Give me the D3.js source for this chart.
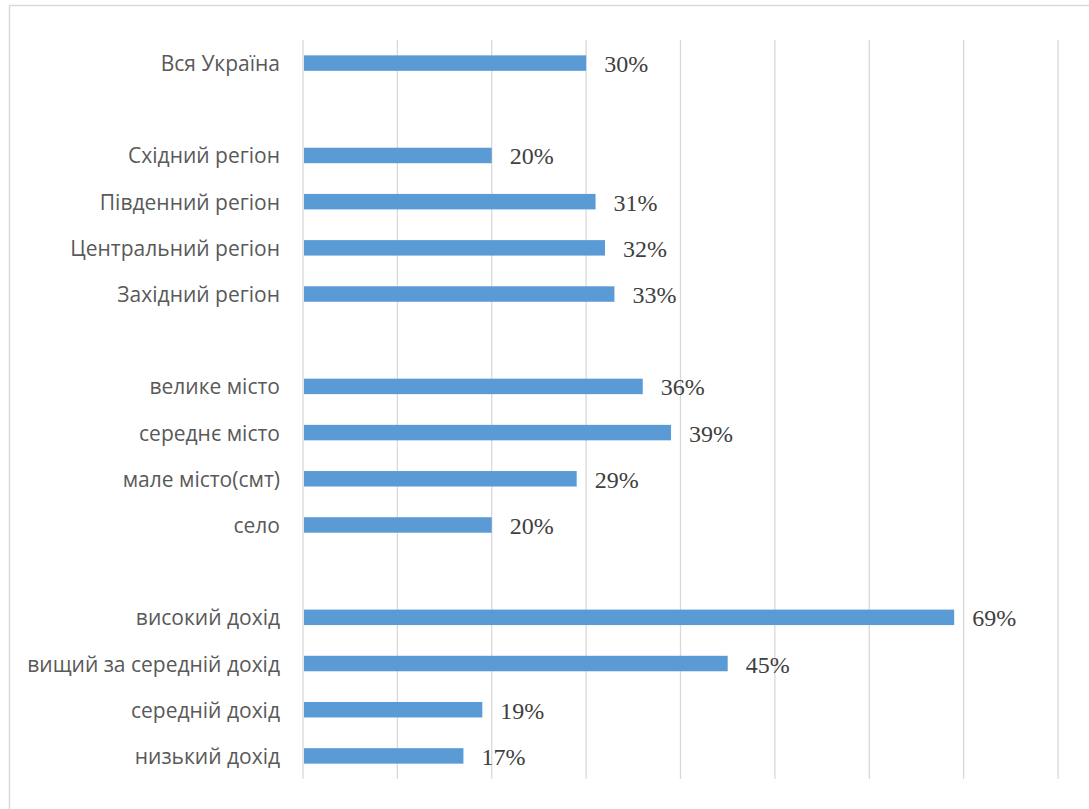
<!DOCTYPE html>
<html>
<head>
<meta charset="utf-8">
<script src="https://cdn.jsdelivr.net/npm/d3@7"></script>
<style>
  html, body { margin: 0; padding: 0; background: #fff; }
  svg { display: block; }
</style>
</head>
<body>
<svg id="chart" width="1089" height="809"></svg>
<script>
// Rows from top to bottom; empty strings are spacer rows between groups
const categories = [
  "Вся Україна", "",
  "Східний регіон", "Південний регіон", "Центральний регіон", "Західний регіон", "",
  "велике місто", "середнє місто", "мале місто(смт)", "село", "",
  "високий дохід", "вищий за середній дохід", "середній дохід", "низький дохід"
];
const values = [30, null, 20, 31, 32, 33, null, 36, 39, 29, 20, null, 69, 45, 19, 17];
const xTicks = [0, 10, 20, 30, 40, 50, 60, 70, 80];

const svg = d3.select("#chart");
const W = 1089, H = 809;
const plot = { left: 303, right: 1058, top: 40, bottom: 779 };

// outer chart frame
svg.append("rect")
  .attr("x", 9.5).attr("y", 5.5)
  .attr("width", W + 10).attr("height", H + 10)
  .attr("fill", "none").attr("stroke", "#d9d9d9").attr("stroke-width", 1.5);

const x = d3.scaleLinear().domain([0, 80]).range([plot.left, plot.right]);
const y = d3.scaleBand()
  .domain(d3.range(categories.length))
  .range([plot.top, plot.bottom])
  .paddingInner(0.665).paddingOuter(0.3325);

// vertical gridlines
svg.append("g")
  .selectAll("line")
  .data(xTicks)
  .join("line")
  .attr("x1", d => x(d)).attr("x2", d => x(d))
  .attr("y1", plot.top).attr("y2", plot.bottom)
  .attr("stroke", "#d9d9d9").attr("stroke-width", 1.3);

const rows = categories.map((c, i) => ({ c, i, v: values[i] }));
const bars = rows.filter(d => d.v != null);

// bars
svg.append("g")
  .selectAll("rect")
  .data(bars)
  .join("rect")
  .attr("x", x(0) + 1)
  .attr("y", d => y(d.i))
  .attr("width", d => x(d.v) - x(0) - 1)
  .attr("height", y.bandwidth())
  .attr("fill", "#5b9bd5");

// category labels
svg.append("g")
  .selectAll("text")
  .data(rows.filter(d => d.c))
  .join("text")
  .attr("x", plot.left - 23)
  .attr("y", d => y(d.i) + y.bandwidth() / 2 + 8)
  .attr("text-anchor", "end")
  .attr("font-family", "'Open Sans', 'Noto Sans', sans-serif")
  .attr("font-size", 21)
  .attr("fill", "#595959")
  .text(d => d.c);

// value labels
svg.append("g")
  .selectAll("text")
  .data(bars)
  .join("text")
  .attr("x", d => x(d.v) + 18)
  .attr("y", d => y(d.i) + y.bandwidth() / 2 + 9)
  .attr("font-family", "'Liberation Serif', 'Times New Roman', serif")
  .attr("font-size", 24)
  .attr("fill", "#404040")
  .text(d => d.v + "%");
</script>
</body>
</html>
